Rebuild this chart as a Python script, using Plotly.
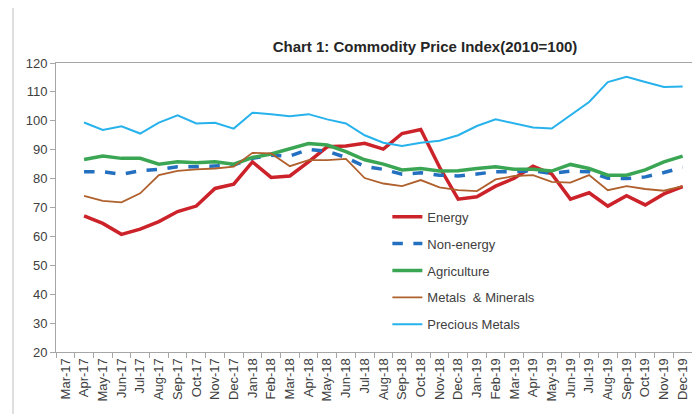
import plotly.graph_objects as go

# ---- data -----------------------------------------------------------------

months = [
    "Mar-17", "Apr-17", "May-17", "Jun-17", "Jul-17", "Aug-17", "Sep-17",
    "Oct-17", "Nov-17", "Dec-17", "Jan-18", "Feb-18", "Mar-18", "Apr-18",
    "May-18", "Jun-18", "Jul-18", "Aug-18", "Sep-18", "Oct-18", "Nov-18",
    "Dec-18", "Jan-19", "Feb-19", "Mar-19", "Apr-19", "May-19", "Jun-19",
    "Jul-19", "Aug-19", "Sep-19", "Oct-19", "Nov-19", "Dec-19",
]

# Mar-17 has no observation; series start at Apr-17
energy = [
    None, 67.1, 64.5, 60.7, 62.5, 65.1, 68.6, 70.5, 76.6, 78.1,
    85.8, 80.4, 80.9, 85.8, 91.0, 91.3, 92.2, 90.2, 95.6, 97.0,
    84.0, 72.9, 73.7, 77.4, 80.1, 84.3, 81.6, 72.9, 75.1, 70.5,
    74.1, 70.9, 74.7, 77.2,
]
non_energy = [
    None, 82.4, 82.4, 81.5, 82.7, 83.2, 84.1, 84.1, 84.3, 84.7,
    87.0, 88.1, 87.8, 90.1, 89.5, 87.3, 84.2, 83.2, 81.5, 82.0,
    81.2, 80.9, 81.6, 82.4, 82.4, 82.7, 81.8, 82.6, 82.4, 80.1,
    80.0, 80.6, 82.1, 83.9,
]
agriculture = [
    None, 86.6, 87.8, 87.0, 87.0, 85.0, 85.8, 85.5, 85.8, 85.0,
    87.3, 88.5, 90.4, 92.1, 91.6, 89.3, 86.5, 85.0, 83.0, 83.5,
    82.6, 82.7, 83.5, 84.1, 83.2, 83.2, 82.6, 84.9, 83.5, 81.2,
    81.2, 83.0, 85.8, 87.8,
]
metals = [
    None, 74.0, 72.3, 71.8, 74.9, 81.2, 82.7, 83.2, 83.5, 84.1,
    88.9, 88.7, 84.3, 86.4, 86.4, 86.8, 80.2, 78.3, 77.4, 79.5,
    77.0, 76.0, 75.7, 79.7, 80.9, 81.2, 78.9, 78.6, 81.2, 76.0,
    77.4, 76.4, 75.8, 77.4,
]
precious = [
    None, 99.4, 96.8, 98.1, 95.6, 99.4, 101.9, 99.1, 99.3, 97.3,
    102.8, 102.3, 101.6, 102.3, 100.5, 99.1, 95.0, 92.4, 91.3, 92.4,
    93.1, 95.0, 98.2, 100.5, 99.0, 97.7, 97.3, 101.9, 106.5, 113.4,
    115.2, 113.4, 111.7, 111.9,
]

series = [
    ("Energy", energy, dict(color="#cc2229", width=3.5)),
    ("Non-energy", non_energy, dict(color="#2470c0", width=3.5, dash="dash")),
    ("Agriculture", agriculture, dict(color="#3aa654", width=3.5)),
    ("Metals  & Minerals", metals, dict(color="#b0602c", width=1.8)),
    ("Precious Metals", precious, dict(color="#27b2ec", width=2)),
]

FONT = "Liberation Sans, Arial, sans-serif"
TEXT = "#404040"
AXIS = "#a6a6a6"

# the page body adds an 8px offset, so the figure is sized to the visible area
W, H = 692, 406

fig = go.Figure()
for i, (name, values, line) in enumerate(series):
    fig.add_trace(
        go.Scatter(
            x=months,
            y=values,
            mode="lines",
            name=name,
            line=line,
            legendgroup=f"g{i}",
            hoverinfo="skip",
        )
    )

fig.update_layout(
    width=W,
    height=H,
    margin=dict(l=48, r=8, t=55, b=62),
    paper_bgcolor="white",
    plot_bgcolor="white",
    font=dict(family=FONT, color=TEXT, size=13),
    title=dict(
        text="<b>Chart 1: Commodity Price Index(2010=100)</b>",
        font=dict(family=FONT, size=15, color="#262626"),
        x=417 / W,
        xanchor="center",
        y=1 - 39 / H,
        yanchor="middle",
    ),
    showlegend=True,
    legend=dict(
        x=0.521,
        y=0.52,
        xanchor="left",
        yanchor="top",
        bgcolor="rgba(0,0,0,0)",
        font=dict(family=FONT, size=13, color=TEXT),
        tracegroupgap=7,
        traceorder="grouped",
    ),
    xaxis=dict(
        type="category",
        range=[-0.5, len(months) - 0.5],
        tickmode="array",
        tickvals=months,
        ticktext=months,
        tickangle=-90,
        tickson="boundaries",
        ticks="outside",
        ticklen=5,
        tickcolor=AXIS,
        tickfont=dict(family=FONT, size=13, color=TEXT),
        showline=True,
        linecolor=AXIS,
        linewidth=1,
        mirror=True,
        showgrid=False,
        automargin=False,
        fixedrange=True,
    ),
    yaxis=dict(
        range=[20, 120],
        dtick=10,
        tick0=20,
        ticks="outside",
        ticklen=5,
        tickcolor=AXIS,
        tickfont=dict(family=FONT, size=13, color=TEXT),
        showline=True,
        linecolor=AXIS,
        linewidth=1,
        mirror=True,
        showgrid=False,
        zeroline=False,
        automargin=False,
    ),
)

# outer chart-frame edge visible at the left of the image
fig.add_shape(
    type="line",
    xref="paper",
    yref="paper",
    x0=(5 - 48) / 636,
    x1=(5 - 48) / 636,
    y0=-0.3,
    y1=1.3,
    line=dict(color="#bfbfbf", width=1),
)

fig.write_html("out.html")
